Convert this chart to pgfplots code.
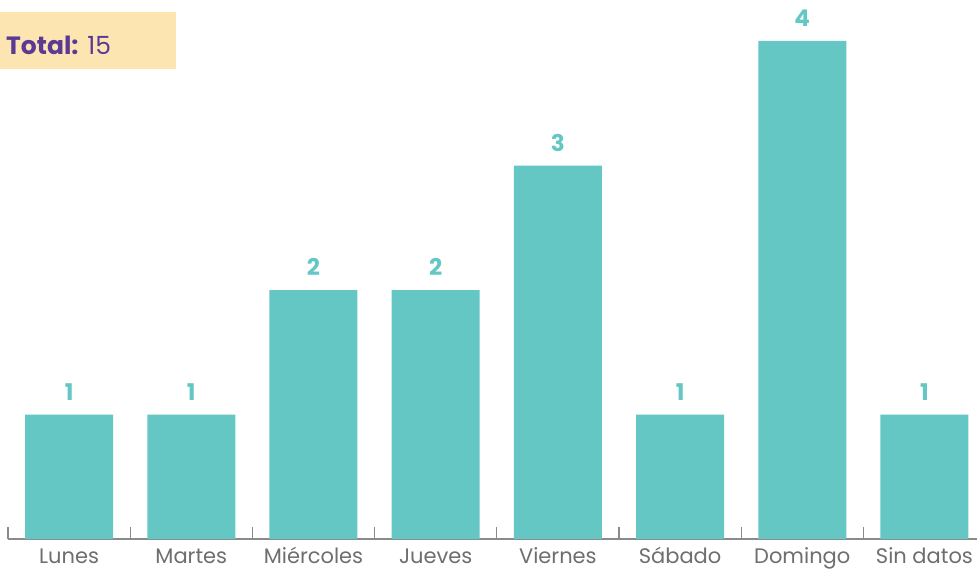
\documentclass[border=0pt]{standalone}
\usepackage{pgfplots}
\pgfplotsset{compat=1.18}
\usepackage{fontspec}
\setmainfont{Poppins}
\usetikzlibrary{calc}
\definecolor{barteal}{HTML}{64C7C4}
\definecolor{axisgray}{HTML}{8A8A8A}
\definecolor{labelgray}{HTML}{6E6E6E}
\definecolor{boxyellow}{HTML}{FCE5B0}
\definecolor{totalpurple}{HTML}{5B3A96}
\begin{document}
\begin{tikzpicture}
\begin{axis}[
    name=ax, at={(0,0)}, anchor=south west,
    scale only axis, width=969pt, height=535.35pt,
    xmin=-0.5, xmax=7.43, ymin=0, ymax=4.3,
    axis x line=bottom, axis y line=none,
    axis line style={-, draw=axisgray, line width=1.2pt},
    ybar, bar width=88pt, clip=false,
    xtick={0,...,7},
    xticklabels={Lunes,Martes,Miércoles,Jueves,Viernes,Sábado,Domingo,Sin datos},
    minor xtick={-0.5,0.5,...,6.5},
    major tick length=0pt, minor tick length=12pt, tick align=inside,
    every minor tick/.append style={draw=axisgray, line width=1.2pt},
    xticklabel style={anchor=base, inner sep=0pt, yshift=-24.5pt, text=labelgray, font=\fontsize{21}{24}\selectfont},
    /pgf/number format/assume math mode=true,
    nodes near coords,
    every node near coord/.append style={anchor=south, inner sep=0pt, yshift=14pt, text=barteal, font=\fontsize{23}{27}\selectfont\bfseries},
]
\addplot[fill=barteal, draw=none] coordinates {(0,1) (1,1) (2,2) (3,2) (4,3) (5,1) (6,4) (7,1)};
\end{axis}
\pgfresetboundingbox
\path[use as bounding box] ([shift={(-8pt,-32pt)}]ax.south west) rectangle ++(977pt,571pt);
\fill[boxyellow] ([shift={(-8pt,470pt)}]ax.south west) rectangle ++(176pt,57pt);
\node[anchor=base west, inner sep=0pt, text=totalpurple, font=\fontsize{25}{29}\selectfont] at ([shift={(-2pt,484pt)}]ax.south west) {\textbf{Total:} 15};
\end{tikzpicture}
\end{document}
